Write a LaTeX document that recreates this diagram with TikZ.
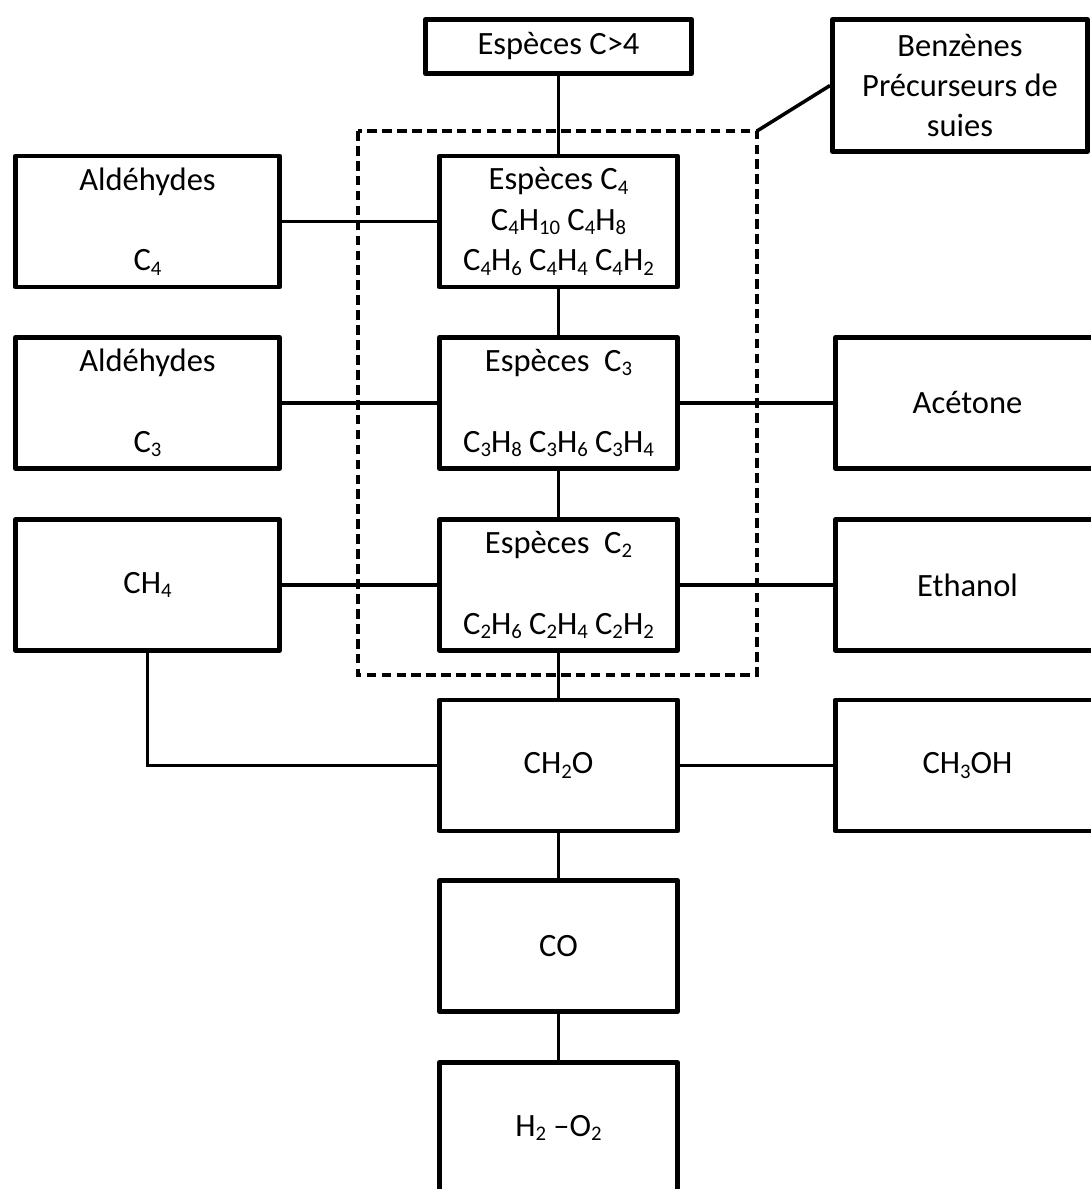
\documentclass[tikz,border=0pt]{standalone}
\usepackage{fontspec}
\setmainfont{Carlito}
\newcommand\ind[1]{\raisebox{-0.3ex}{\fontsize{11.8}{11.8}\selectfont#1}}
\begin{document}
\begin{tikzpicture}[
  boite/.style={draw,line width=2.8pt,line join=round,align=center,inner sep=0pt,
    minimum height=2.62cm,font=\fontsize{18.5}{23}\selectfont},
  gauche/.style={boite,minimum width=5.28cm},
  milieu/.style={boite,minimum width=4.76cm},
  droite/.style={boite,minimum width=5.28cm},
  lien/.style={line width=2pt},
  groupe/.style={line width=2.6pt,dash pattern=on 5.5pt off 3pt}
]
  \useasboundingbox (0,0) rectangle (21.82,-23.78);

  \node[boite,minimum width=5.32cm,minimum height=1.08cm] (sup4) at (11.17,-0.93) {Espèces C>4};
  \node[boite,minimum width=5.1cm,minimum height=2.64cm] (benz) at (19.2,-1.71) {Benzènes\\Précurseurs de\\suies};

  \node[gauche] (ald4) at (2.95,-4.43) {Aldéhydes\\[23pt]C\ind{4}};
  \node[milieu] (c4) at (11.17,-4.43) {Espèces C\ind{4}\\C\ind{4}H\ind{10} C\ind{4}H\ind{8}\\C\ind{4}H\ind{6} C\ind{4}H\ind{4} C\ind{4}H\ind{2}};

  \node[gauche] (ald3) at (2.95,-8.06) {Aldéhydes\\[23pt]C\ind{3}};
  \node[milieu] (c3) at (11.17,-8.06) {Espèces~~C\ind{3}\\[23pt]C\ind{3}H\ind{8} C\ind{3}H\ind{6} C\ind{3}H\ind{4}};
  \node[droite] (acetone) at (19.35,-8.06) {Acétone};

  \node[gauche] (ch4) at (2.95,-11.7) {CH\ind{4}};
  \node[milieu] (c2) at (11.17,-11.7) {Espèces~~C\ind{2}\\[23pt]C\ind{2}H\ind{6} C\ind{2}H\ind{4} C\ind{2}H\ind{2}};
  \node[droite] (ethanol) at (19.35,-11.7) {Ethanol};

  \node[milieu] (ch2o) at (11.17,-15.31) {CH\ind{2}O};
  \node[droite] (ch3oh) at (19.35,-15.31) {CH\ind{3}OH};

  \node[milieu] (co) at (11.17,-18.92) {CO};
  \node[milieu] (h2o2) at (11.17,-22.56) {H\ind{2} –O\ind{2}};

  \draw[lien] (sup4) -- (c4);
  \draw[lien] (c4) -- (c3);
  \draw[lien] (c3) -- (c2);
  \draw[lien] (c2) -- (ch2o);
  \draw[lien] (ch2o) -- (co);
  \draw[lien] (co) -- (h2o2);

  \draw[lien] (ald4) -- (c4);
  \draw[lien] (ald3) -- (c3);
  \draw[lien] (ch4) -- (c2);
  \draw[lien] (ch4.south) |- (ch2o.west);

  \draw[lien] (c3) -- (acetone);
  \draw[lien] (c2) -- (ethanol);
  \draw[lien] (ch2o) -- (ch3oh);

  \draw[groupe] (7.16,-2.62) rectangle (15.14,-13.5);
  \coordinate (coin) at (15.14,-2.62);
  \draw[lien] (coin) -- (benz.west);
\end{tikzpicture}
\end{document}
